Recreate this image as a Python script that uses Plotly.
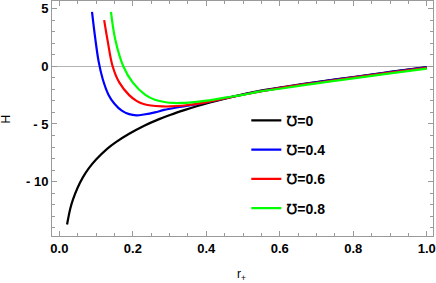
import plotly.graph_objects as go

x_black = [0.021, 0.03, 0.037, 0.05, 0.064, 0.08, 0.1, 0.13, 0.155, 0.19, 0.231, 0.27, 0.303, 0.34, 0.376, 0.41, 0.448, 0.5, 0.539, 0.6, 0.7, 0.8, 0.9, 1.0]
y_black = [-13.7, -12.3, -11.55, -10.5, -9.62, -8.85, -8.08, -7.15, -6.55, -5.85, -5.15, -4.6, -4.2, -3.8, -3.44, -3.13, -2.82, -2.43, -2.17, -1.85, -1.37, -0.93, -0.49, -0.07]

x_blue = [0.0889, 0.098, 0.107, 0.118, 0.134, 0.15, 0.17, 0.19, 0.21, 0.23, 0.26, 0.285, 0.32, 0.358, 0.4, 0.44, 0.5, 0.6, 0.7, 0.8, 0.9, 1.0]
y_blue = [4.7, 2.34, 0.4, -1.1, -2.48, -3.25, -3.85, -4.15, -4.25, -4.18, -4.0, -3.78, -3.57, -3.38, -3.12, -2.85, -2.45, -1.88, -1.39, -0.95, -0.51, -0.09]

x_red = [0.122, 0.1315, 0.145, 0.163, 0.19, 0.21, 0.227, 0.249, 0.28, 0.303, 0.34, 0.376, 0.41, 0.44, 0.5, 0.6, 0.7, 0.8, 0.9, 1.0]
y_red = [4.0, 2.2, 0.0, -1.4, -2.5, -3.0, -3.25, -3.4, -3.48, -3.48, -3.4, -3.26, -3.05, -2.85, -2.47, -1.9, -1.43, -0.99, -0.56, -0.14]

x_green = [0.1405, 0.152, 0.174, 0.1995, 0.234, 0.26, 0.29, 0.31, 0.331, 0.36, 0.39, 0.421, 0.45, 0.5, 0.539, 0.6, 0.7, 0.8, 0.9, 1.0]
y_green = [4.7, 2.34, 0.0, -1.4, -2.48, -2.9, -3.12, -3.18, -3.18, -3.12, -3.02, -2.89, -2.72, -2.48, -2.22, -1.95, -1.48, -1.05, -0.62, -0.2]

names = ["℧=0", "℧=0.4", "℧=0.6", "℧=0.8"]
colors = ["#000000", "#0000ff", "#ff0000", "#00ff00"]
xs = [x_black, x_blue, x_red, x_green]
ys = [y_black, y_blue, y_red, y_green]

y_tickvals = [5, 0, -5, -10]
y_ticktext = ["5", "0", "- 5", "- 10"]
x_tickvals = [0.0, 0.2, 0.4, 0.6, 0.8, 1.0]
x_ticktext = ["0.0", "0.2", "0.4", "0.6", "0.8", "1.0"]

fig = go.Figure()
for i in range(4):
    fig.add_trace(go.Scatter(x=xs[i], y=ys[i], mode="lines", name=names[i],
                             line=dict(color=colors[i], width=2.2, shape="spline"),
                             legendgroup=str(i)))

frame = "#9a9a9a"
tickfont = dict(family="Liberation Sans, Arial", size=13, color="black", weight="bold")
fig.update_layout(
    width=436, height=283,
    margin=dict(l=52, r=3, t=1, b=47),
    plot_bgcolor="white", paper_bgcolor="white",
    showlegend=True,
    legend=dict(x=0.51, y=0.558, xanchor="left", yanchor="top",
                bgcolor="rgba(0,0,0,0)", tracegroupgap=8,
                font=dict(family="Liberation Sans, Arial", size=14, color="black", weight="bold")),
    xaxis=dict(range=[-0.02, 1.017], showgrid=False, zeroline=False,
               showline=True, linecolor=frame, linewidth=1, mirror="allticks",
               ticks="inside", ticklen=5, tickcolor=frame,
               tickmode="array", tickvals=x_tickvals, ticktext=x_ticktext,
               minor=dict(tickmode="linear", tick0=0, dtick=0.05, ticks="inside", ticklen=3, tickcolor=frame),
               tickfont=tickfont),
    yaxis=dict(range=[-14.7, 5.65], showgrid=False,
               zeroline=True, zerolinecolor="#b4b4b4", zerolinewidth=1,
               showline=True, linecolor=frame, linewidth=1, mirror="allticks",
               ticks="inside", ticklen=5, tickcolor=frame,
               tickmode="array", tickvals=y_tickvals, ticktext=y_ticktext,
               minor=dict(tickmode="linear", tick0=0, dtick=1, ticks="inside", ticklen=3, tickcolor=frame),
               tickfont=tickfont),
    annotations=[
        dict(text="H", xref="paper", yref="paper", x=-46/380.7, y=0.5, xanchor="center", yanchor="middle",
             textangle=-90, showarrow=False, font=dict(family="Liberation Sans, Arial", size=12, color="black")),
        dict(text="r<sub>+</sub>", xref="paper", yref="paper", x=(241-52)/380.7, y=-(275-236)/235,
             xanchor="center", yanchor="middle", showarrow=False,
             font=dict(family="Liberation Sans, Arial", size=12, color="black")),
    ],
)

fig.write_html("out.html", config={"displayModeBar": False},
               post_script="document.body.style.margin='0';")
